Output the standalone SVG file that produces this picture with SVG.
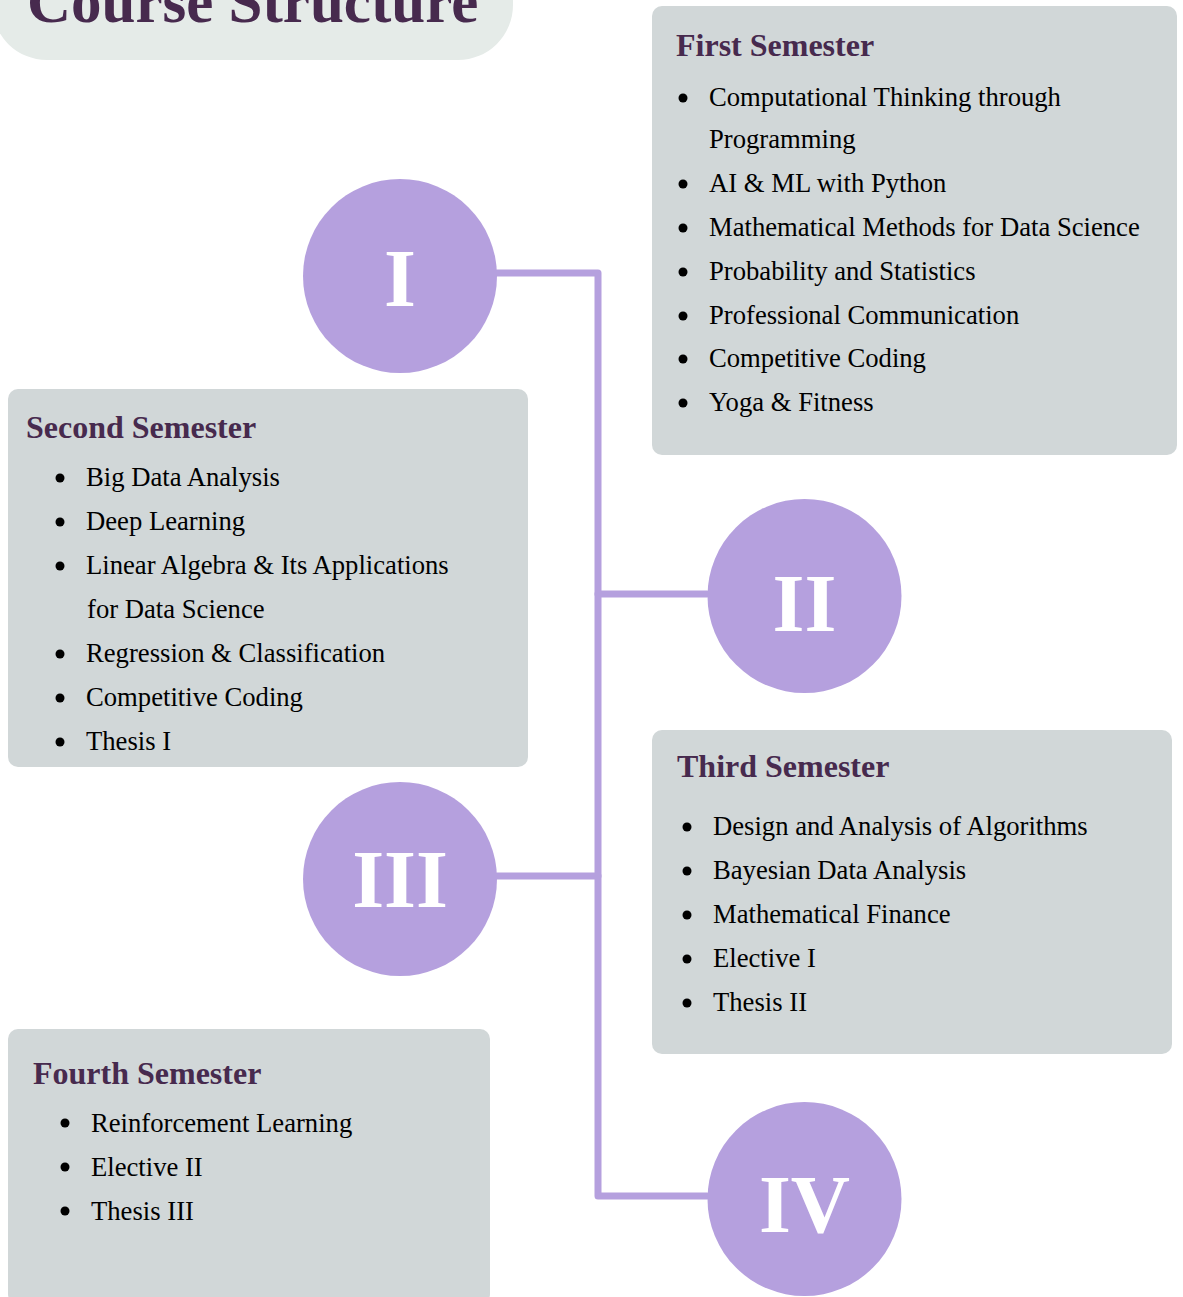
<svg xmlns="http://www.w3.org/2000/svg" width="1183" height="1297" viewBox="0 0 1183 1297">
<style>
.box{fill:#d1d7d8}
.circ{fill:#b5a0de}
.num{font-family:"Liberation Serif","Times New Roman",serif;font-weight:bold;font-size:82px;fill:#ffffff;text-anchor:middle}
.head{font-family:"Liberation Serif","Times New Roman",serif;font-weight:bold;font-size:32px;fill:#472a4e}
.item{font-family:"Liberation Serif","Times New Roman",serif;font-size:26.67px;fill:#000000}
.dot{fill:#000000}
.conn{fill:none;stroke:#b5a0de;stroke-width:7;stroke-linejoin:round;stroke-linecap:round}
</style>
<rect width="1183" height="1297" fill="#ffffff"/>
<g id="title">
<rect x="-8" y="-70" width="521" height="130" rx="55" fill="#e5ebe8"/>
<text x="27" y="22" font-family="Liberation Serif, Times New Roman, serif" font-weight="bold" font-size="61" fill="#472a4e">Course Structure</text>
</g>
<g id="connectors">
<path class="conn" d="M497 273 H598 V1196 H707"/>
<path class="conn" d="M598 594 H707"/>
<path class="conn" d="M497 876 H598"/>
</g>
<g id="sem1">
<rect class="box" x="652" y="6" width="525" height="449" rx="10"/>
<text class="head" x="676" y="56">First Semester</text>
<circle class="dot" cx="683" cy="98" r="4.5"/>
<text class="item" x="709" y="106">Computational Thinking through</text>
<text class="item" x="709" y="148">Programming</text>
<circle class="dot" cx="683" cy="184" r="4.5"/>
<text class="item" x="709" y="192">AI &amp; ML with Python</text>
<circle class="dot" cx="683" cy="228" r="4.5"/>
<text class="item" x="709" y="236">Mathematical Methods for Data Science</text>
<circle class="dot" cx="683" cy="272" r="4.5"/>
<text class="item" x="709" y="280">Probability and Statistics</text>
<circle class="dot" cx="683" cy="316" r="4.5"/>
<text class="item" x="709" y="324">Professional Communication</text>
<circle class="dot" cx="683" cy="359" r="4.5"/>
<text class="item" x="709" y="367">Competitive Coding</text>
<circle class="dot" cx="683" cy="403" r="4.5"/>
<text class="item" x="709" y="411">Yoga &amp; Fitness</text>
</g>
<g id="sem2">
<rect class="box" x="8" y="389" width="520" height="378" rx="10"/>
<text class="head" x="26" y="438">Second Semester</text>
<circle class="dot" cx="60" cy="478" r="4.5"/>
<text class="item" x="86" y="486">Big Data Analysis</text>
<circle class="dot" cx="60" cy="522" r="4.5"/>
<text class="item" x="86" y="530">Deep Learning</text>
<circle class="dot" cx="60" cy="566" r="4.5"/>
<text class="item" x="86" y="574">Linear Algebra &amp; Its Applications</text>
<text class="item" x="87" y="618">for Data Science</text>
<circle class="dot" cx="60" cy="654" r="4.5"/>
<text class="item" x="86" y="662">Regression &amp; Classification</text>
<circle class="dot" cx="60" cy="698" r="4.5"/>
<text class="item" x="86" y="706">Competitive Coding</text>
<circle class="dot" cx="60" cy="742" r="4.5"/>
<text class="item" x="86" y="750">Thesis I</text>
</g>
<g id="sem3">
<rect class="box" x="652" y="730" width="520" height="324" rx="10"/>
<text class="head" x="677" y="777">Third Semester</text>
<circle class="dot" cx="687" cy="827" r="4.5"/>
<text class="item" x="713" y="835">Design and Analysis of Algorithms</text>
<circle class="dot" cx="687" cy="871" r="4.5"/>
<text class="item" x="713" y="879">Bayesian Data Analysis</text>
<circle class="dot" cx="687" cy="915" r="4.5"/>
<text class="item" x="713" y="923">Mathematical Finance</text>
<circle class="dot" cx="687" cy="959" r="4.5"/>
<text class="item" x="713" y="967">Elective I</text>
<circle class="dot" cx="687" cy="1003" r="4.5"/>
<text class="item" x="713" y="1011">Thesis II</text>
</g>
<g id="sem4">
<rect class="box" x="8" y="1029" width="482" height="275" rx="10"/>
<text class="head" x="33" y="1084">Fourth Semester</text>
<circle class="dot" cx="65" cy="1123" r="4.5"/>
<text class="item" x="91" y="1132">Reinforcement Learning</text>
<circle class="dot" cx="65" cy="1167" r="4.5"/>
<text class="item" x="91" y="1176">Elective II</text>
<circle class="dot" cx="65" cy="1211" r="4.5"/>
<text class="item" x="91" y="1220">Thesis III</text>
</g>
<g id="node-I">
<circle class="circ" cx="400" cy="276" r="97"/>
<text class="num" x="400" y="306">I</text>
</g>
<g id="node-II">
<circle class="circ" cx="804.5" cy="596" r="97"/>
<text class="num" x="804.5" y="631">II</text>
</g>
<g id="node-III">
<circle class="circ" cx="400" cy="879" r="97"/>
<text class="num" x="400" y="907">III</text>
</g>
<g id="node-IV">
<circle class="circ" cx="804.5" cy="1199" r="97"/>
<text class="num" x="804.5" y="1232">IV</text>
</g>
</svg>
